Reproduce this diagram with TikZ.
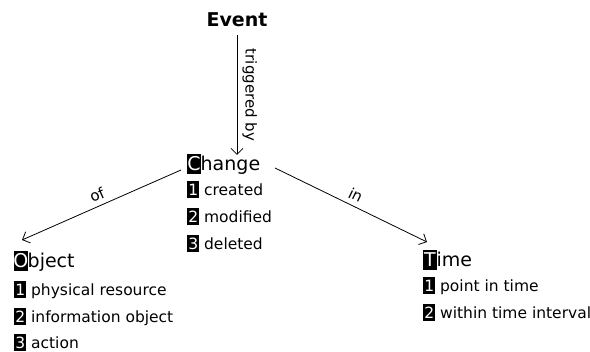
\documentclass[tikz,border=0pt]{standalone}
\usepackage{fontspec}
\setmainfont{DejaVu Sans}
\usetikzlibrary{arrows.meta}
\newcommand\hlbox[4]{{\setlength\fboxsep{0pt}\colorbox{black}{\makebox[#2]{\rule[#3]{0pt}{#4}\textcolor{white}{#1}}}}}
\newcommand\numbox[1]{\hlbox{#1}{12pt}{-2.5pt}{17pt}}
\newcommand\capbox[1]{\hlbox{#1}{13.5pt}{-3pt}{20pt}}
\tikzset{
  title/.style={anchor=base west, inner sep=0pt, font=\fontsize{19}{22}\selectfont},
  item/.style={anchor=base west, inner sep=0pt, font=\fontsize{15.5}{18}\selectfont},
  conn/.style={draw, line width=0.8pt, -{Straight Barb[length=6pt,width=12pt]}},
  lbl/.style={font=\fontsize{15}{18}\selectfont, sloped, above, inner sep=5pt}
}
\begin{document}
\begin{tikzpicture}[x=1pt,y=-1pt]
\useasboundingbox (0,0) rectangle (590,352);
\node[anchor=base, inner sep=0pt, font=\fontsize{19}{22}\selectfont\bfseries] (event) at (237,27) {Event};
\node[title] (change) at (187,171) {\capbox{C}hange};
\node[item] (c1) at (187,196) {\numbox{1} created};
\node[item] (c2) at (187,223) {\numbox{2} modified};
\node[item] (c3) at (187,250) {\numbox{3} deleted};
\node[title] (object) at (14,268) {\capbox{O}bject};
\node[item] (o1) at (14,296) {\numbox{1} physical resource};
\node[item] (o2) at (14,323) {\numbox{2} information object};
\node[item] (o3) at (14,349) {\numbox{3} action};
\node[title] (time) at (423,267) {\capbox{T}ime};
\node[item] (t1) at (423,292) {\numbox{1} point in time};
\node[item] (t2) at (423,319) {\numbox{2} within time interval};
\coordinate (e1) at (237,35);
\coordinate (e2) at (237,155);
\draw[conn] (event.south |- e1) -- node[lbl]{triggered by} (event.south |- e2);
\coordinate (of1) at (181,170);
\coordinate (of2) at (22,240);
\draw[conn] (of1) -- node[lbl]{of} (of2);
\coordinate (in1) at (275,168);
\coordinate (in2) at (427,242);
\draw[conn] (in1) -- node[lbl]{in} (in2);
\end{tikzpicture}
\end{document}
